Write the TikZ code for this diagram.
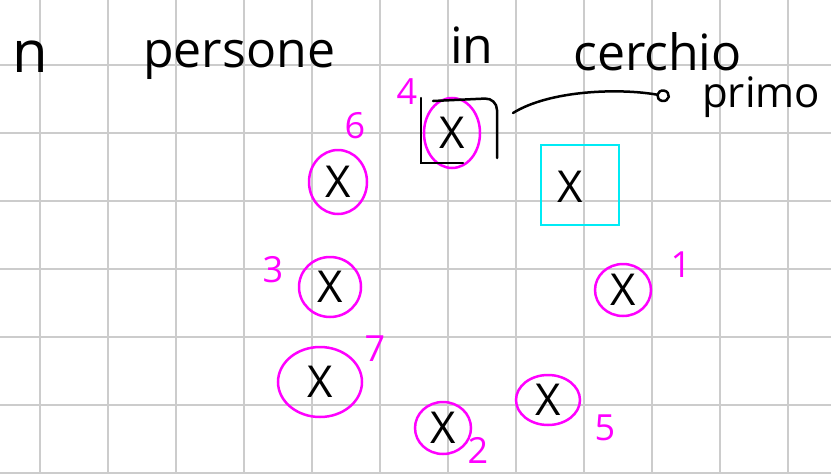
\documentclass[tikz,border=0pt]{standalone}
\usepackage{fontspec}
\setmainfont{Open Sans}
\usetikzlibrary{shapes.geometric,arrows.meta}
\definecolor{pen}{RGB}{255,0,255}
\definecolor{hilite}{RGB}{0,235,245}

\begin{document}
\begin{tikzpicture}[x=1pt,y=-1pt,
  gridline/.style={draw=black!20,line width=1.5pt},
  ink/.style={draw=black,line width=2.5pt,line cap=round},
  person/.style={draw=pen,ellipse,line width=2.5pt,inner sep=0pt,font=\fontsize{44}{44}\selectfont},
  cross/.style={inner sep=0pt,font=\fontsize{44}{44}\selectfont},
  num/.style={text=pen,inner sep=0pt,font=\fontsize{36}{36}\selectfont},
  word/.style={anchor=base west,inner sep=0pt,font=\fontsize{50}{50}\selectfont}]
\useasboundingbox (0,0) rectangle (831,474);
\foreach \gx in {40,108,...,788} \draw[gridline] (\gx,0) -- (\gx,474);
\foreach \gy in {65,133,...,473} \draw[gridline] (0,\gy) -- (831,\gy);

\node[word,font=\fontsize{58}{58}\selectfont] (wn) at (12,72) {n};
\node[word] (wpers) at (143,67) {persone};
\node[word] (win) at (450,63) {in};
\node[word] (wcer) at (573,70) {cerchio};
\node[word,font=\fontsize{42}{42}\selectfont] (primo) at (702,107) {primo};

\node[person,minimum width=58pt,minimum height=64pt] (p6) at (338,182) {X};
\node[person,minimum width=56pt,minimum height=70pt] (p4) at (452,133) {X};
\node[person,minimum width=62pt,minimum height=60pt] (p3) at (330,287) {X};
\node[person,minimum width=56pt,minimum height=52pt] (p1) at (623,290) {X};
\node[person,minimum width=84pt,minimum height=70pt] (p7) at (320,382) {X};
\node[person,minimum width=56pt,minimum height=52pt] (p2) at (443,428) {X};
\node[person,minimum width=64pt,minimum height=50pt] (p5) at (548,400) {X};

\node[draw=hilite,line width=2.5pt,minimum width=78pt,minimum height=80pt] (pick) at (580,185) {};
\node[cross] (px) at (570,187) {X};

\node[num] (l6) at (355,126) {6};
\node[num] (l4) at (407,92) {4};
\node[num] (l3) at (273,270) {3};
\node[num] (l1) at (681,265) {1};
\node[num] (l7) at (375,349) {7};
\node[num] (l2) at (478,450) {2};
\node[num] (l5) at (605,428) {5};

\draw[ink] (463,163) -- (421,163) -- (421,98);
\draw[ink,rounded corners=12pt] (433,101) -- (497,98) -- (497,158);

\coordinate (arrs) at (513,113);
\coordinate (arre) at (670,97);
\draw[ink,-{Circle[open,length=14pt,width=13pt]}] (arrs) .. controls (550,90) and (620,88) .. (arre);
\end{tikzpicture}
\end{document}
